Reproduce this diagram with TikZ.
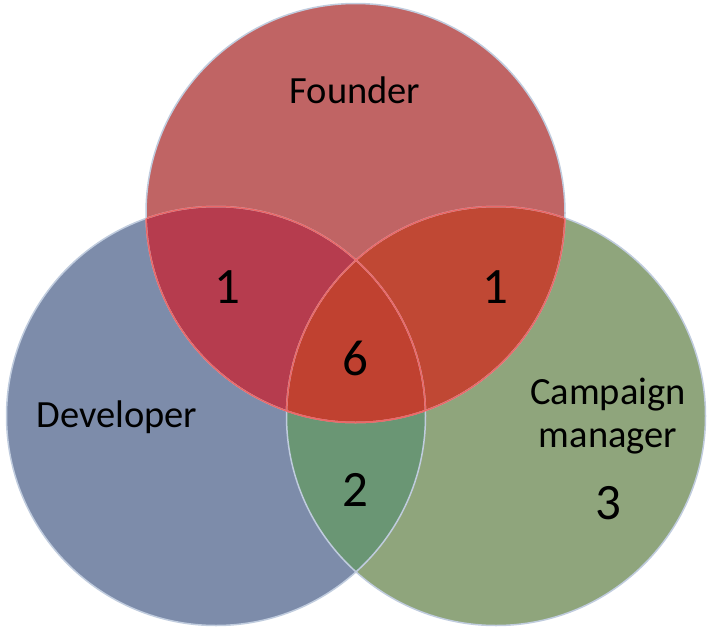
\documentclass[tikz,border=0pt]{standalone}
\usepackage{fontspec}
\setmainfont{Carlito}
\definecolor{redo}{RGB}{192,100,100}
\definecolor{blueo}{RGB}{125,140,170}
\definecolor{greeno}{RGB}{143,165,124}
\definecolor{rb}{RGB}{182,60,78}
\definecolor{rg}{RGB}{192,72,52}
\definecolor{bg}{RGB}{106,150,116}
\definecolor{rbg}{RGB}{192,65,48}
\definecolor{edge}{RGB}{192,204,222}
\definecolor{redge}{RGB}{236,104,104}
\tikzset{
  lbl/.style={font=\fontsize{38.5}{43}\selectfont, align=center, text=black},
  num/.style={font=\fontsize{51}{51}\selectfont, text=black},
  ring/.style={line width=1.5pt}
}
\begin{document}
\begin{tikzpicture}[x=1pt,y=-1pt]
\useasboundingbox (0,0) rectangle (712,632);
\def\R{209.5}
\coordinate (F) at (355.5,213);
\coordinate (D) at (216,416);
\coordinate (C) at (496,416);
% base fills
\fill[blueo] (D) circle[radius=\R];
\fill[greeno] (C) circle[radius=\R];
\fill[redo] (F) circle[radius=\R];
% pairwise
\begin{scope}
  \clip (D) circle[radius=\R];
  \fill[bg] (C) circle[radius=\R];
  \fill[rb] (F) circle[radius=\R];
\end{scope}
\begin{scope}
  \clip (C) circle[radius=\R];
  \fill[rg] (F) circle[radius=\R];
\end{scope}
\begin{scope}
  \clip (D) circle[radius=\R];
  \clip (C) circle[radius=\R];
  \fill[rbg] (F) circle[radius=\R];
\end{scope}
% outlines
\draw[ring, edge] (D) circle[radius=\R];
\draw[ring, edge] (C) circle[radius=\R];
\draw[ring, edge] (F) circle[radius=\R];
\begin{scope}
  \clip (F) circle[radius=\R-0.8];
  \draw[ring, redge] (D) circle[radius=\R];
  \draw[ring, redge] (C) circle[radius=\R];
\end{scope}
\begin{scope}
  \clip (D) circle[radius=\R];
  \draw[ring, redge] (F) circle[radius=\R];
\end{scope}
\begin{scope}
  \clip (C) circle[radius=\R];
  \draw[ring, redge] (F) circle[radius=\R];
\end{scope}
% labels
\node[lbl] (lf) at (355,90) {Founder};
\node[lbl] (ld) at (117,417) {Developer};
\node[lbl] (lc) at (608,416) {Campaign\\manager};
\node[num] (n1) at (227,287) {1};
\node[num] (n2) at (495,287) {1};
\node[num] (n3) at (355,358) {6};
\node[num] (n4) at (355,490) {2};
\node[num] (n5) at (608,503) {3};
\end{tikzpicture}
\end{document}
